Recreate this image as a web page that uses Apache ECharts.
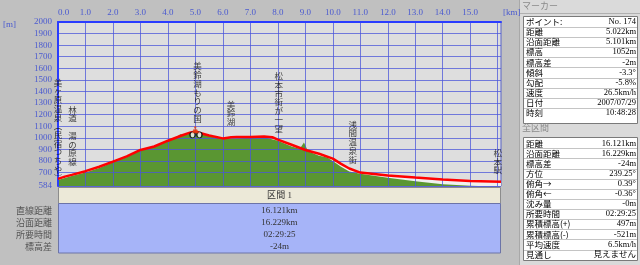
<!DOCTYPE html>
<html><head><meta charset="utf-8">
<script src="https://cdn.jsdelivr.net/npm/echarts@6/dist/echarts.min.js"></script>
<style>html,body{margin:0;padding:0;background:#c0c0c0}#c{width:640px;height:265px}</style>
</head><body><div id="c"></div>
<script>
// ---- data ----
const gpsKm  = [0, 0.25, 0.5, 1.0, 1.5, 2.0, 2.5, 3.0, 3.5, 4.0, 4.5, 4.8, 5.0, 5.2, 5.5, 6.0, 6.3, 6.5, 7.0, 7.5, 7.8, 8.0, 8.5, 9.0, 9.5, 10.0, 10.3, 10.6, 11.0, 11.5, 12.0, 13.0, 14.0, 15.0, 16.121];
const gpsEle = [645, 665, 680, 712, 750, 795, 840, 895, 925, 975, 1020, 1045, 1055, 1040, 1020, 995, 1005, 1008, 1008, 1012, 1005, 985, 940, 895, 862, 820, 775, 735, 700, 688, 675, 657, 640, 628, 620];
const groundKm  = [0, 0.5, 1.0, 1.5, 2.0, 2.5, 3.0, 3.5, 4.0, 4.3, 4.45, 4.6, 5.0, 5.5, 6.0, 7.0, 7.5, 8.0, 8.5, 8.8, 8.95, 9.1, 9.5, 9.8, 10.0, 10.3, 10.6, 11.0, 12.0, 13.0, 14.0, 14.5, 15.0, 15.3, 16.121];
const groundEle = [635, 670, 700, 740, 790, 835, 890, 920, 975, 1005, 1030, 1025, 1050, 1015, 990, 1000, 1005, 975, 925, 905, 960, 885, 845, 830, 800, 750, 710, 690, 655, 625, 600, 592, 586, 584, 584];
const xLabelValues = [0,1,2,3,4,5,6,7,8,9,10,11,12,13,14,15];
const xGridValues  = [0,1,2,3,4,5,6,7,8,9,10,11,12,13,14,15,16];
const yTickValues  = [584,700,800,900,1000,1100,1200,1300,1400,1500,1600,1700,1800,1900,2000];
const waypointNames = ['美ヶ原温泉︵民宿つちや︶', '林道　湯の原線', '美鈴湖もりの国', '美鈴湖', '松本市街が一望', '浅間温泉街', '松本駅'];
const waypointKm    = [0.0, 0.53, 5.08, 6.3, 8.03, 10.73, 16.0];
const waypointTop   = [1515, 1282, 1656, 1325, 1570, 1152, 910];
const markerKm = 5.022, markerEle = 1052;
const markerLabels = ['ポイント:', '距離', '沿面距離', '標高', '標高差', '傾斜', '勾配', '速度', '日付', '時刻'];
const markerValues = ['No. 174', '5.022km', '5.101km', '1052m', '-2m', '-3.3°', '-5.8%', '26.5km/h', '2007/07/29', '10:48:28'];
const totalLabels = ['距離', '沿面距離', '標高差', '方位', '俯角→', '俯角←', '沈み量', '所要時間', '累積標高(+)', '累積標高(-)', '平均速度', '見通し'];
const totalValues = ['16.121km', '16.229km', '-24m', '239.25°', '0.39°', '-0.36°', '-0m', '02:29:25', '497m', '-521m', '6.5km/h', '見えません'];
const sectionTitle = '区間 1';
const sectionLabels = ['直線距離', '沿面距離', '所要時間', '標高差'];
const sectionValues = ['16.121km', '16.229km', '02:29:25', '-24m'];

// ---- chart ----
const SERIF = '"Liberation Serif","Noto Sans CJK JP",serif';
const CJK = '"Noto Sans CJK JP",sans-serif';
const AX = '#4a5ad0';
const GRIDC = '#4b55d9';
const gps = gpsKm.map((k, i) => [k, gpsEle[i]]);
const ground = groundKm.map((k, i) => [k, groundEle[i]]);
const waypoints = waypointKm.map((k, i) => ({value: [k, waypointTop[i]], name: waypointNames[i]}));

const graphic = [];
function txt(x, y, text, opts) {
  graphic.push(Object.assign({type: 'text', x: x, y: y, silent: true,
    style: Object.assign({text: text, fill: '#000', font: '8px ' + SERIF, align: 'left', verticalAlign: 'middle',
      textAlign: 'left', textVerticalAlign: 'middle'}, opts || {})}));
}
function rect(x, y, w, h, fill, stroke) {
  graphic.push({type: 'rect', silent: true, shape: {x: x, y: y, width: w, height: h}, style: {fill: fill, stroke: stroke || null, lineWidth: 1}});
}
function hline(x1, x2, y, c) {
  graphic.push({type: 'line', silent: true, shape: {x1: x1, y1: y, x2: x2, y2: y}, style: {stroke: c, lineWidth: 1}});
}
// right panel
rect(519.5, -0.5, 121, 266, '#dadada', '#a8a8a8');
txt(522, 6, 'マーカー', {fill: '#8a8a8a', font: '9px ' + CJK});
hline(519.5, 640, 13.5, '#b0b0b0');
rect(523.5, 16.5, 114, 107, '#ffffff', '#7a7a7a');
markerLabels.forEach((l, i) => {
  const cy = 21.7 + i * 10.15;
  if (i > 0) hline(524, 637, Math.round(cy - 5.1) + 0.5, '#c4c4c4');
  txt(526, cy, l, {font: '8.5px ' + CJK});
  txt(636, cy, markerValues[i], {font: '8.5px ' + SERIF, align: 'right', textAlign: 'right'});
});
txt(522, 128, '全区間', {fill: '#8a8a8a', font: '9px ' + CJK});
rect(523.5, 137.5, 114, 123, '#ffffff', '#7a7a7a');
totalLabels.forEach((l, i) => {
  const cy = 143.3 + i * 10.12;
  if (i > 0) hline(524, 637, Math.round(cy - 5.1) + 0.5, '#c4c4c4');
  txt(526, cy, l, {font: '8.5px ' + CJK});
  txt(636, cy, totalValues[i], {font: '8.5px ' + SERIF, align: 'right', textAlign: 'right'});
});
// bottom section table
rect(58.5, 187.5, 442, 16, '#ece9d8', '#8c8c8c');
txt(279.5, 195.5, sectionTitle, {font: '9px ' + SERIF, fill: '#333', align: 'center', textAlign: 'center'});
rect(58.5, 203.5, 442, 49.5, '#a6b4f8', '#6c74a8');
sectionLabels.forEach((l, i) => {
  const cy = 211 + i * 12;
  txt(52, cy, l, {font: '9px ' + CJK, fill: '#555', align: 'right', textAlign: 'right'});
  txt(279.5, cy, sectionValues[i], {font: '9px ' + SERIF, fill: '#333', align: 'center', textAlign: 'center'});
});
// axis unit labels
txt(3, 25, '[m]', {font: '9px ' + SERIF, fill: AX});
txt(503, 12.5, '[km]', {font: '9px ' + SERIF, fill: AX});

const chart = echarts.init(document.getElementById('c'), null, {renderer: 'canvas'});
chart.setOption({
  animation: false,
  backgroundColor: '#c0c0c0',
  grid: {left: 58, top: 22, width: 443, height: 164, show: true, backgroundColor: '#dedede', borderColor: '#5a64c8', borderWidth: 1},
  xAxis: {
    type: 'value', position: 'top', min: 0, max: 16.121, z: 3,
    axisLine: {show: true, lineStyle: {color: '#2a3cff', width: 2}},
    axisTick: {show: false, customValues: xGridValues},
    axisLabel: {customValues: xLabelValues, formatter: v => v.toFixed(1), color: AX, fontFamily: SERIF, fontSize: 9, margin: 5, alignMinLabel: 'left'},
    splitLine: {show: true, lineStyle: {color: GRIDC, width: 1, opacity: 0.75}}
  },
  yAxis: {
    type: 'value', min: 584, max: 2000, z: 3,
    axisLine: {show: true, lineStyle: {color: '#2a3cff', width: 2}},
    axisTick: {show: false, customValues: yTickValues},
    axisLabel: {customValues: yTickValues, formatter: v => String(v), color: AX, fontFamily: SERIF, fontSize: 9, margin: 6},
    splitLine: {show: true, lineStyle: {color: GRIDC, width: 1, opacity: 0.75}}
  },
  series: [
    {type: 'line', data: gps, z: 1, symbol: 'none', silent: true, lineStyle: {width: 0}, areaStyle: {color: '#f0f0f0', opacity: 1, origin: 'start'}},
    {type: 'line', data: ground, z: 2, symbol: 'none', silent: true, lineStyle: {width: 0}, areaStyle: {color: '#5a9632', opacity: 1, origin: 'start'}},
    {type: 'line', data: gps, z: 4, symbol: 'none', silent: true, lineStyle: {color: '#ff0000', width: 2.5}},
    {type: 'scatter', data: [[markerKm, markerEle]], z: 5, silent: true, symbol: 'path://M0,3a3,3 0 1,0 6,0a3,3 0 1,0 -6,0M8,3a3,3 0 1,0 6,0a3,3 0 1,0 -6,0', symbolSize: [12, 6], symbolOffset: [0, 3], itemStyle: {color: '#ffffff', borderColor: '#000', borderWidth: 1}},
    {type: 'scatter', data: [[markerKm, markerEle]], z: 6, silent: true, symbol: 'path://M3,0a1.5,1.5 0 1,0 3,0a1.5,1.5 0 1,0 -3,0M2,2L7,2L8,5L10,7L1,7Z', symbolSize: [7, 7], symbolOffset: [0, -2], itemStyle: {color: '#e84010'}},
    {type: 'scatter', data: waypoints, z: 7, silent: true, symbolSize: 0,
      label: {show: true, position: 'bottom', distance: 0, color: '#111', fontFamily: CJK, fontSize: 8.5, lineHeight: 8.7,
        formatter: p => Array.from(p.name).join('\n')}}
  ],
  graphic: graphic
});
</script></body></html>
